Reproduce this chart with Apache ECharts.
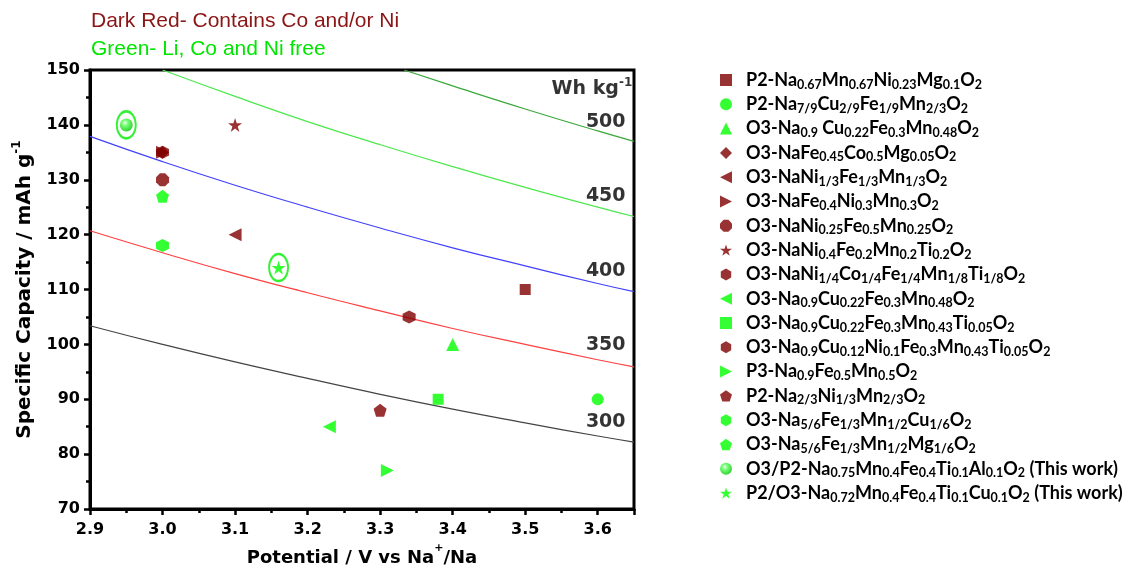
<!DOCTYPE html>
<html><head><meta charset="utf-8">
<script src="https://cdn.jsdelivr.net/npm/echarts@6/dist/echarts.min.js"></script>
<style>html,body{margin:0;padding:0;background:#fff}#c{width:1131px;height:572px}</style>
</head><body><div id="c"></div>
<script>
// ---------- data ----------
const materials = [
  'P2-Na_{0.67}Mn_{0.67}Ni_{0.23}Mg_{0.1}O_{2}',
  'P2-Na_{7/9}Cu_{2/9}Fe_{1/9}Mn_{2/3}O_{2}',
  'O3-Na_{0.9} Cu_{0.22}Fe_{0.3}Mn_{0.48}O_{2}',
  'O3-NaFe_{0.45}Co_{0.5}Mg_{0.05}O_{2}',
  'O3-NaNi_{1/3}Fe_{1/3}Mn_{1/3}O_{2}',
  'O3-NaFe_{0.4}Ni_{0.3}Mn_{0.3}O_{2}',
  'O3-NaNi_{0.25}Fe_{0.5}Mn_{0.25}O_{2}',
  'O3-NaNi_{0.4}Fe_{0.2}Mn_{0.2}Ti_{0.2}O_{2}',
  'O3-NaNi_{1/4}Co_{1/4}Fe_{1/4}Mn_{1/8}Ti_{1/8}O_{2}',
  'O3-Na_{0.9}Cu_{0.22}Fe_{0.3}Mn_{0.48}O_{2}',
  'O3-Na_{0.9}Cu_{0.22}Fe_{0.3}Mn_{0.43}Ti_{0.05}O_{2}',
  'O3-Na_{0.9}Cu_{0.12}Ni_{0.1}Fe_{0.3}Mn_{0.43}Ti_{0.05}O_{2}',
  'P3-Na_{0.9}Fe_{0.5}Mn_{0.5}O_{2}',
  'P2-Na_{2/3}Ni_{1/3}Mn_{2/3}O_{2}',
  'O3-Na_{5/6}Fe_{1/3}Mn_{1/2}Cu_{1/6}O_{2}',
  'O3-Na_{5/6}Fe_{1/3}Mn_{1/2}Mg_{1/6}O_{2}',
  'O3/P2-Na_{0.75}Mn_{0.4}Fe_{0.4}Ti_{0.1}Al_{0.1}O_{2} (This work)',
  'P2/O3-Na_{0.72}Mn_{0.4}Fe_{0.4}Ti_{0.1}Cu_{0.1}O_{2} (This work)'
];
const potentials = [3.50, 3.60, 3.40, 3.00, 3.10, 3.00, 3.00, 3.10, 3.00, 3.23, 3.38, 3.34, 3.31, 3.30, 3.00, 3.00, 2.95, 3.16];
const capacities = [110, 90, 100, 135, 120, 135, 130, 140, 135, 85, 90, 105, 77, 88, 118, 127, 140, 114];
const groups = ['red','green','green','red','red','red','red','red','red','green','green','red','green','red','green','green','work','work'];

const isoPotentials = [2.9, 3.0, 3.1, 3.2, 3.3, 3.4, 3.5, 3.6, 3.65];
const iso300 = [103.4, 100.0, 96.8, 93.8, 90.9, 88.2, 85.7, 83.3, 82.2];
const iso350 = [120.7, 116.7, 112.9, 109.4, 106.1, 102.9, 100.0, 97.2, 95.9];
const iso400 = [137.9, 133.3, 129.0, 125.0, 121.2, 117.6, 114.3, 111.1, 109.6];
const iso450 = [null, 150.0, 145.2, 140.6, 136.4, 132.4, 128.6, 125.0, 123.3];
const iso500Potentials = [3.333, 3.4, 3.5, 3.6, 3.65];
const iso500 = [150.0, 147.1, 142.9, 138.9, 137.0];
const energyLabels = ['300', '350', '400', '450', '500'];

const xTicks = [2.9, 3.0, 3.1, 3.2, 3.3, 3.4, 3.5, 3.6];
const yTicks = [70, 80, 90, 100, 110, 120, 130, 140, 150];

// ---------- styles ----------
const DARK = '#7f0000', LIME = '#00ff00';
const HEX = 'path://M50,0 L93.3,25 L93.3,75 L50,100 L6.7,75 L6.7,25 Z';
const OCT = 'path://M30,0 L70,0 L100,30 L100,70 L70,100 L30,100 L0,70 L0,30 Z';
const PENT = 'path://M50,0 L97.6,34.5 L79.4,90.5 L20.6,90.5 L2.4,34.5 Z';
const STAR = 'path://M50,0 L61.2,34.5 L97.6,34.5 L68.2,55.9 L79.4,90.5 L50,69.1 L20.6,90.5 L31.8,55.9 L2.4,34.5 L38.8,34.5 Z';
const LTRI = 'path://M0,50 L100,0 L100,100 Z';
const RTRI = 'path://M100,50 L0,0 L0,100 Z';
const symbols = ['rect','circle','triangle','diamond',LTRI,RTRI,OCT,STAR,HEX,LTRI,'rect',HEX,RTRI,PENT,HEX,PENT,'circle',STAR];
const sizes =   [11,12,13,13,13,13,13,14,13,13,11,13,13,13,13,13,13,14];
const sphere = {type:'radial',x:0.4,y:0.35,r:0.65,colorStops:[{offset:0,color:'#eaffea'},{offset:0.35,color:'#55ff55'},{offset:1,color:'#00c800'}]};

function toRich(s){
  const parts = s.split(/_\{([^}]*)\}/);
  let out = '{sp| }';
  parts.forEach((p,i)=>{ if(!p) return; out += (i%2 ? '{s|'+p+'}' : '{n|'+p+'}'); });
  return out;
}

const series = [];
function isoSeries(xs, ys, color){
  return {type:'line', data: xs.map((x,i)=>[x, ys[i]]).filter(d=>d[1]!==null), smooth:true, symbol:'none',
    lineStyle:{color:color,width:1.2}, silent:true, z:1, clip:true};
}
series.push(isoSeries(isoPotentials, iso300, '#444444'));
series.push(isoSeries(isoPotentials, iso350, '#ff4040'));
series.push(isoSeries(isoPotentials, iso400, '#4040ff'));
series.push(isoSeries(isoPotentials, iso450, '#4ce84c'));
series.push(isoSeries(iso500Potentials, iso500, '#3aa83a'));

materials.forEach((m,i)=>{
  const g = groups[i];
  series.push({type:'scatter', name:m, symbol:symbols[i], symbolSize:sizes[i],
    data:[[potentials[i], capacities[i]]],
    itemStyle:{color: g==='red'?DARK:(i===16?sphere:LIME)}, z:5});
});
// rings around "this work"
series.push({type:'scatter', symbol:'circle', symbolSize:[19,27], silent:true, z:4,
  data:[16,17].map(i=>[potentials[i], capacities[i]]),
  itemStyle:{color:'rgba(0,0,0,0)', borderColor:'#00ee00', borderWidth:2.2}});

// energy labels
const BOLD = 'DejaVu Sans';
const lblStyle = {fontFamily:BOLD, fontWeight:'bold', fontSize:19, color:'#000'};
series.push({type:'scatter', symbolSize:0, silent:true, z:6,
  data:[[3.611,85.8,energyLabels[0]],[3.611,99.8,energyLabels[1]],[3.611,113.3,energyLabels[2]],[3.611,127.1,energyLabels[3]],[3.611,140.6,energyLabels[4]]],
  label:{show:true, position:'inside', formatter:p=>p.data[2], ...lblStyle}});
series.push({type:'scatter', symbolSize:0, silent:true, z:6,
  data:[[3.592,146.8]],
  label:{show:true, position:'inside', formatter:'{a|Wh kg}{b|-1}',
    rich:{a:{...lblStyle, lineHeight:22, verticalAlign:'bottom'}, b:{fontFamily:BOLD, fontWeight:'bold', fontSize:12, lineHeight:12, verticalAlign:'top', color:'#000'}}}});

const axisFont = {fontFamily:BOLD, fontWeight:'bold', fontSize:16, color:'#000'};
const chart = echarts.init(document.getElementById('c'), null, {renderer:'canvas'});
chart.setOption({
  animation:false,
  backgroundColor:'#fff',
  title:[
    {text:'Dark Red- Contains Co and/or Ni', left:86, top:6, textStyle:{fontFamily:'Liberation Sans, Arial', fontWeight:'normal', fontSize:21, color:'#8b1414'}},
    {text:'Green- Li, Co and Ni free', left:86, top:34, textStyle:{fontFamily:'Liberation Sans, Arial', fontWeight:'normal', fontSize:21, color:'#00e600'}}
  ],
  grid:{left:90, right:497, top:70, bottom:63, show:true, borderColor:'#000', borderWidth:3, backgroundColor:'#fff', outerBoundsMode:'none', containLabel:false},
  xAxis:{type:'value', min:2.9, max:3.65, interval:0.1,
    axisLine:{show:true, onZero:false, lineStyle:{color:'#000', width:3}},
    axisTick:{show:true, inside:false, length:6, lineStyle:{width:2.5,color:'#000'}},
    minorTick:{show:true, splitNumber:2, length:4, lineStyle:{width:2.5,color:'#000'}},
    splitLine:{show:false},
    axisLabel:{...axisFont, margin:13, formatter:v=>{const t=xTicks.find(x=>Math.abs(x-v)<1e-6); return t===undefined?'':t.toFixed(1);}, showMaxLabel:false},
    name:'{n|Potential / V vs Na}{p|+}{n|/Na}', nameLocation:'middle', nameGap:34,
    nameTextStyle:{rich:{n:{...axisFont, fontSize:18, lineHeight:24, verticalAlign:'bottom'}, p:{...axisFont, fontSize:11, lineHeight:12, verticalAlign:'top'}}}
  },
  yAxis:{type:'value', min:70, max:150, interval:10,
    axisLine:{show:true, onZero:false, lineStyle:{color:'#000', width:3}},
    axisTick:{show:true, inside:false, length:6, lineStyle:{width:2.5,color:'#000'}},
    minorTick:{show:true, splitNumber:2, length:4, lineStyle:{width:2.5,color:'#000'}},
    splitLine:{show:false},
    axisLabel:{...axisFont, margin:10, formatter:v=>{const t=yTicks.find(y=>y===v); return t===undefined?'':String(t);}},
    name:'{n|Specific Capacity / mAh g}{p|-1}', nameLocation:'middle', nameGap:55,
    nameTextStyle:{rich:{n:{...axisFont, fontSize:20, lineHeight:24, verticalAlign:'bottom'}, p:{...axisFont, fontSize:12, lineHeight:12, verticalAlign:'top'}}}
  },
  legend:{orient:'vertical', left:715, top:66, itemWidth:12, itemHeight:12, itemGap:4.3,
    data:materials,
    formatter:name=>toRich(name),
    textStyle:{rich:{
      sp:{width:9, fontSize:10},
      n:{fontFamily:'Lato, Open Sans', fontWeight:'bold', fontSize:18, color:'#000', lineHeight:22, verticalAlign:'middle'},
      s:{fontFamily:'Lato, Open Sans', fontWeight:'bold', fontSize:12.5, color:'#000', lineHeight:12, verticalAlign:'bottom'}
    }},
    selectedMode:false},
  series:series
});
</script></body></html>
